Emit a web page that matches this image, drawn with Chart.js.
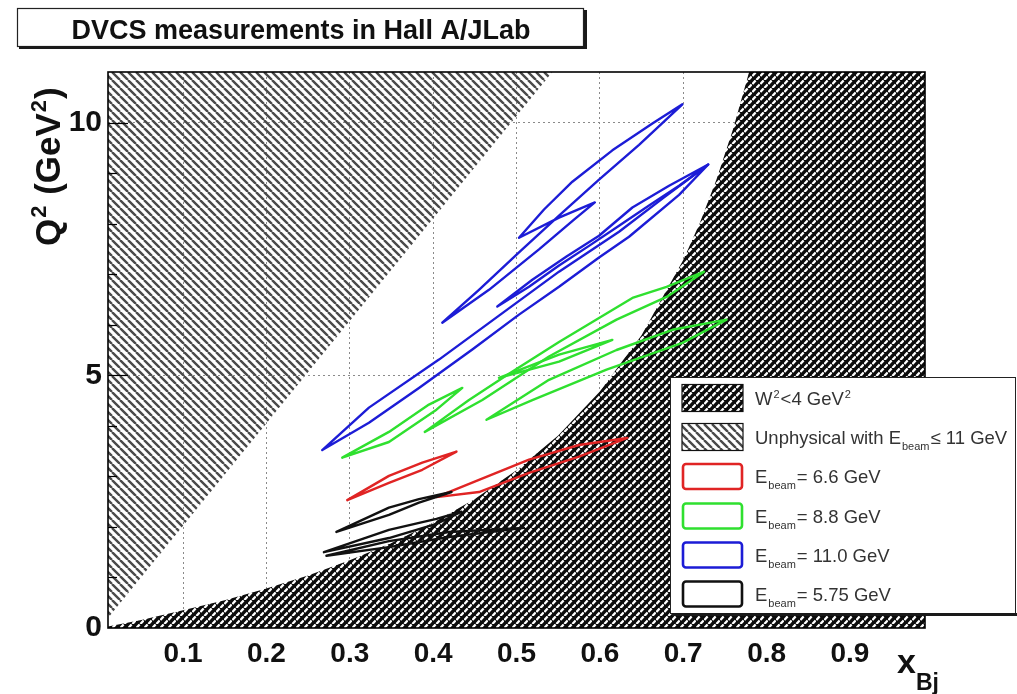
<!DOCTYPE html>
<html>
<head>
<meta charset="utf-8">
<script src="https://cdn.jsdelivr.net/npm/chart.js@4.4.1/dist/chart.umd.min.js"></script>
<style>
html,body{margin:0;padding:0;background:#fff;}
#wrap{width:1017px;height:694px;position:relative;}
</style>
</head>
<body>
<div id="wrap"><canvas id="c" width="1017" height="694"></canvas></div>
<script>
// ---------------- text ----------------
const titleText = 'DVCS measurements in Hall A/JLab';
const yTitleParts = [['Q',''],['2','sup'],[' (GeV',''],['2','sup'],[')','']];
const xTitleParts = [['x',''],['Bj','sub']];

// ---------------- ticks ----------------
const xTickValues = [0.1,0.2,0.3,0.4,0.5,0.6,0.7,0.8,0.9];
const xTickLabels = ['0.1','0.2','0.3','0.4','0.5','0.6','0.7','0.8','0.9'];
const yTickValues = [0,5,10];
const yTickLabels = ['0','5','10'];
const yMinorTicks = [1,2,3,4,6,7,8,9];

// ---------------- regions ----------------
// W^2 < 4 GeV^2 boundary (x_Bj, Q^2)
const w2BoundaryX  = [0.01,0.05,0.10,0.15,0.20,0.25,0.30,0.35,0.40,0.45,0.50,0.55,0.60,0.65,0.70,0.72,0.74,0.76,0.779,0.99];
const w2BoundaryQ2 = [0.03,0.16,0.35,0.55,0.78,1.04,1.34,1.68,2.08,2.55,3.12,3.81,4.68,5.79,7.28,8.02,8.88,9.88,11.0,11.0];
// unphysical with E_beam <= 11 GeV boundary
const unphysX  = [0.01,0.543];
const unphysQ2 = [0.20,11.0];

// ---------------- acceptance contours [x_Bj, Q^2] ----------------
// E_beam = 11.0 GeV
const blueLoop1 = [[0.503,7.72],[0.533,8.28],[0.567,8.83],[0.615,9.45],[0.663,9.98],[0.699,10.36],[0.647,9.56],[0.599,8.87],[0.551,8.16],[0.503,7.43],[0.455,6.69],[0.411,6.04],[0.467,6.69],[0.527,7.49],[0.569,8.08],[0.594,8.42],[0.551,8.12],[0.503,7.72]];
const blueLoop2 = [[0.477,6.36],[0.519,6.89],[0.560,7.35],[0.599,7.76],[0.639,8.32],[0.683,8.75],[0.730,9.17],[0.695,8.75],[0.659,8.36],[0.623,7.96],[0.587,7.56],[0.551,7.17],[0.515,6.75],[0.477,6.36]];
const blueLoop3 = [[0.267,3.52],[0.323,4.36],[0.407,5.31],[0.479,6.18],[0.551,7.05],[0.623,7.84],[0.677,8.52],[0.730,9.17],[0.695,8.57],[0.635,7.74],[0.599,7.33],[0.551,6.75],[0.503,6.20],[0.447,5.51],[0.383,4.75],[0.323,4.06],[0.267,3.52]];
// E_beam = 8.8 GeV
const greenLoop1 = [[0.291,3.37],[0.347,3.88],[0.395,4.42],[0.435,4.75],[0.404,4.32],[0.347,3.68],[0.291,3.37]];
const greenLoop2 = [[0.390,3.88],[0.443,4.51],[0.491,5.03],[0.551,5.66],[0.639,6.53],[0.680,6.75],[0.725,7.05],[0.680,6.55],[0.620,6.10],[0.539,5.37],[0.459,4.51],[0.390,3.88]];
const greenLoop3 = [[0.464,4.12],[0.539,4.91],[0.620,5.50],[0.687,5.90],[0.752,6.10],[0.699,5.64],[0.608,5.11],[0.519,4.51],[0.464,4.12]];
const greenLoop4 = [[0.479,4.95],[0.551,5.41],[0.615,5.70],[0.551,5.27],[0.479,4.95]];
// E_beam = 6.6 GeV
const redLoop1 = [[0.297,2.53],[0.347,3.01],[0.387,3.27],[0.428,3.49],[0.387,3.13],[0.347,2.87],[0.297,2.53]];
const redLoop2 = [[0.404,2.59],[0.455,2.93],[0.515,3.33],[0.575,3.62],[0.633,3.76],[0.575,3.39],[0.515,3.07],[0.455,2.69],[0.404,2.59]];
// E_beam = 5.75 GeV
const blackLoop1 = [[0.284,1.90],[0.347,2.38],[0.383,2.55],[0.422,2.69],[0.383,2.48],[0.347,2.24],[0.284,1.90]];
const blackLoop2 = [[0.269,1.50],[0.347,1.94],[0.404,2.16],[0.434,2.30],[0.404,2.06],[0.347,1.78],[0.269,1.50]];
const blackLoop3 = [[0.272,1.43],[0.347,1.72],[0.419,1.90],[0.509,1.98],[0.419,1.80],[0.347,1.60],[0.272,1.43]];

// ---------------- legend ----------------
const legendRows = [
  {kind:'w2',    parts:[['W',''],['2','sup'],['<4 GeV',''],['2','sup']]},
  {kind:'unphys',parts:[['Unphysical with E',''],['beam','sub'],['\u2264 11 GeV','']]},
  {kind:'line', color:'#e02424', parts:[['E',''],['beam','sub'],['= 6.6 GeV','']]},
  {kind:'line', color:'#2fe02f', parts:[['E',''],['beam','sub'],['= 8.8 GeV','']]},
  {kind:'line', color:'#1c1cd6', parts:[['E',''],['beam','sub'],['= 11.0 GeV','']]},
  {kind:'line', color:'#111111', parts:[['E',''],['beam','sub'],['= 5.75 GeV','']]}
];

const FONT = "'Liberation Sans', Arial, Helvetica, sans-serif";
const mainCanvas = document.getElementById('c');
const mctx = mainCanvas.getContext('2d');

function makeHatch(){
  const t = document.createElement('canvas'); t.width = 8; t.height = 8;
  const g = t.getContext('2d');
  g.strokeStyle = '#4a4a4a'; g.lineWidth = 2.4;
  g.beginPath();
  for (let k=-1;k<=1;k++){ g.moveTo(k*8,0); g.lineTo(k*8+8,8); }
  g.stroke();
  return mctx.createPattern(t,'repeat');
}
function makeDense(){
  const t = document.createElement('canvas'); t.width = 8; t.height = 8;
  const g = t.getContext('2d');
  g.fillStyle = '#0c0c0c'; g.fillRect(0,0,8,8);
  g.strokeStyle = '#ffffff'; g.lineWidth = 2.3; g.lineCap='butt';
  g.beginPath();
  g.moveTo(0.4,4.0); g.lineTo(3.6,0.4);
  g.moveTo(4.4,8.0); g.lineTo(7.6,4.4);
  g.stroke();
  return mctx.createPattern(t,'repeat');
}
const hatchPattern = makeHatch();
const densePattern = makeDense();

const toPts = arr => arr.map(p => ({x:p[0], y:p[1]}));
const zipPts = (xs, ys) => xs.map((x,i) => ({x, y:ys[i]}));

function contour(arr, color){
  return {data: toPts(arr), showLine:true, fill:false, borderColor:color, backgroundColor:color,
          borderWidth:2.4, pointRadius:0, tension:0, order:1, borderJoinStyle:'round', borderCapStyle:'round'};
}

const datasets = [
  {data: zipPts(unphysX, unphysQ2), showLine:true, fill:'end', backgroundColor: hatchPattern,
   borderColor:'rgba(0,0,0,0)', borderWidth:0, pointRadius:0, order:20},
  {data: zipPts(w2BoundaryX, w2BoundaryQ2), showLine:true, fill:'origin', backgroundColor: densePattern,
   borderColor:'rgba(0,0,0,0)', borderWidth:0, pointRadius:0, order:19},
  ...[blackLoop1,blackLoop2,blackLoop3].map(a=>contour(a,'#111111')),
  ...[redLoop1,redLoop2].map(a=>contour(a,'#e02424')),
  ...[greenLoop1,greenLoop2,greenLoop3,greenLoop4].map(a=>contour(a,'#2fe02f')),
  ...[blueLoop1,blueLoop2,blueLoop3].map(a=>contour(a,'#1c1cd6'))
];

function drawParts(ctx, parts, x, y, size, opts){
  const subSize = opts.subSize, off = opts.off;
  let cx = x;
  for (const [txt, kind] of parts){
    if (kind === ''){
      ctx.font = (opts.bold?'bold ':'') + size + 'px ' + FONT;
      ctx.fillText(txt, cx, y); cx += ctx.measureText(txt).width;
    } else {
      ctx.font = (opts.bold?'bold ':'') + subSize + 'px ' + FONT;
      const dy = kind === 'sup' ? -off.sup : off.sub;
      cx += opts.gap || 0;
      ctx.fillText(txt, cx, y + dy); cx += ctx.measureText(txt).width + (opts.gap || 0);
    }
  }
  return cx - x;
}

const decor = {
  id:'decor',
  afterDatasetsDraw(chart){
    const {ctx, chartArea:a, scales:{y}} = chart;
    ctx.save();
    ctx.strokeStyle = '#000';
    ctx.lineWidth = 1.2;
    yMinorTicks.forEach(v=>{
      const py = Math.round(y.getPixelForValue(v))+0.5;
      ctx.beginPath(); ctx.moveTo(a.left,py); ctx.lineTo(a.left+9,py); ctx.stroke();
    });
    yTickValues.filter(v=>v>0).forEach(v=>{
      const py = Math.round(y.getPixelForValue(v))+0.5;
      ctx.beginPath(); ctx.moveTo(a.left,py); ctx.lineTo(a.left+20,py); ctx.stroke();
    });
    ctx.lineWidth = 1.6;
    ctx.strokeRect(a.left, a.top, a.right-a.left, a.bottom-a.top);
    ctx.restore();
  },
  afterDraw(chart){
    const ctx = chart.ctx;
    ctx.save();
    // title box
    ctx.fillStyle = '#fff'; ctx.fillRect(17,8,567,39);
    ctx.strokeStyle = '#222'; ctx.lineWidth = 1.2; ctx.strokeRect(17.5,8.5,566,38);
    ctx.fillStyle = '#1a1a1a'; ctx.fillRect(19,46,568,3); ctx.fillRect(584,10,3,39);
    ctx.fillStyle = '#111'; ctx.font = 'bold 27px ' + FONT; ctx.textAlign='center'; ctx.textBaseline='alphabetic';
    ctx.fillText(titleText, 301, 39);
    ctx.textAlign='left';

    // y axis title (rotated)
    ctx.save();
    ctx.translate(60, 246); ctx.rotate(-Math.PI/2);
    ctx.fillStyle = '#111';
    drawParts(ctx, yTitleParts, 0, 0, 35, {bold:true, subSize:22, off:{sup:14, sub:6}, gap:1});
    ctx.restore();

    // x axis title
    ctx.fillStyle = '#111';
    drawParts(ctx, xTitleParts, 897, 673, 34, {bold:true, subSize:23, off:{sup:14, sub:17}, gap:0});

    // legend
    const L = {x:670, y:377, w:345, h:236};
    ctx.fillStyle = '#fff'; ctx.fillRect(L.x, L.y, L.w, L.h);
    ctx.strokeStyle = '#222'; ctx.lineWidth = 1; ctx.strokeRect(L.x+0.5, L.y+0.5, L.w, L.h);
    ctx.fillStyle = '#1a1a1a'; ctx.fillRect(L.x+2, L.y+L.h, L.w, 3);
    const rowY = [398, 437, 476.5, 516, 555, 594];
    legendRows.forEach((r,i)=>{
      const cy = rowY[i];
      const sx = 682, sw = 61, sh = 27, sy = cy - sh/2;
      if (r.kind === 'w2' || r.kind === 'unphys'){
        ctx.fillStyle = r.kind === 'w2' ? densePattern : hatchPattern;
        ctx.fillRect(sx, sy, sw, sh);
        ctx.strokeStyle = '#111'; ctx.lineWidth = 1.2; ctx.strokeRect(sx, sy, sw, sh);
      } else {
        ctx.strokeStyle = r.color; ctx.lineWidth = 2.6;
        ctx.beginPath();
        if (ctx.roundRect) ctx.roundRect(sx+1, sy+1, sw-2, sh-2, 3); else ctx.rect(sx+1, sy+1, sw-2, sh-2);
        ctx.stroke();
      }
      ctx.fillStyle = '#333';
      drawParts(ctx, r.parts, 755, cy + 6.5, 18.5, {bold:false, subSize:11, off:{sup:7, sub:6}, gap:1});
    });
    ctx.restore();
  }
};

new Chart(mainCanvas, {
  type:'scatter',
  data:{datasets},
  plugins:[decor],
  options:{
    responsive:false, animation:false, devicePixelRatio:1,
    layout:{padding:{left:0, top:72, right:92, bottom:0}},
    plugins:{legend:{display:false}, tooltip:{enabled:false}, title:{display:false}},
    elements:{line:{tension:0}},
    scales:{
      x:{
        type:'linear', min:0.01, max:0.99,
        afterBuildTicks: s => { s.ticks = xTickValues.map(v=>({value:v})); },
        afterFit: s => { s.height = 66; },
        ticks:{ callback:(v,i)=>xTickLabels[i], font:{family:FONT, size:28, weight:'bold'}, color:'#111', padding:9, maxRotation:0, autoSkip:false },
        grid:{ color:'#8a8a8a', lineWidth:1, drawTicks:false },
        border:{ display:false, dash:[2,3] }
      },
      y:{
        type:'linear', min:0, max:11,
        afterBuildTicks: s => { s.ticks = yTickValues.map(v=>({value:v})); },
        afterFit: s => { s.width = 108; },
        ticks:{ callback:(v,i)=>yTickLabels[i], font:{family:FONT, size:30, weight:'bold'}, color:'#111', padding:6 },
        grid:{ color: c => (c.tick && c.tick.value === 0) ? 'rgba(0,0,0,0)' : '#8a8a8a', lineWidth:1, drawTicks:false },
        border:{ display:false, dash:[2,3] }
      }
    }
  }
});
</script>
</body>
</html>
